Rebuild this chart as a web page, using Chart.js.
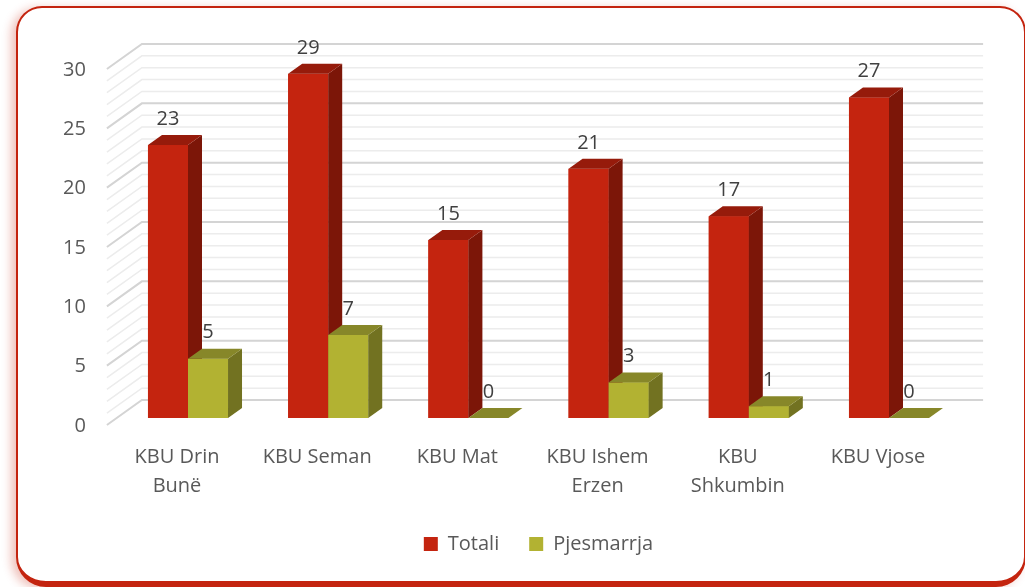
<!DOCTYPE html>
<html>
<head>
<meta charset="utf-8">
<script src="https://cdn.jsdelivr.net/npm/chart.js"></script>
<style>
  html, body { margin: 0; padding: 0; background: #fff; overflow: hidden; }
  .card {
    position: absolute; left: 16px; top: 6px; width: 1006px; height: 573px;
    border: 2px solid #c4240f; border-bottom-width: 6px;
    border-radius: 26px 26px 30px 30px;
    box-shadow: -5px 2px 10px rgba(196, 36, 15, 0.28);
    background: #fff;
  }
  #wrap { position: absolute; left: 0; top: 0; width: 1025px; height: 587px; }
</style>
</head>
<body>
<div class="card"></div>
<div id="wrap"><canvas id="bar-chart" width="1025" height="587"></canvas></div>
<script>
  // data
  var categories = [['KBU Drin', 'Bunë'], 'KBU Seman', 'KBU Mat', ['KBU Ishem', 'Erzen'], ['KBU', 'Shkumbin'], 'KBU Vjose'];
  var totali = [23, 29, 15, 21, 17, 27];
  var pjesmarrja = [5, 7, 0, 3, 1, 0];
  var yTicks = [0, 5, 10, 15, 20, 25, 30];

  var faceColors = [
    { front: '#c4240f', side: '#7c1608', top: '#961b0b' },
    { front: '#b2b232', side: '#727221', top: '#878729' }
  ];
  var depthX = 14, depthY = -10;

  Chart.defaults.font.family = "'Open Sans', sans-serif";

  // back wall + left side wall grid, in perspective
  var wallPlugin = {
    id: 'wall',
    beforeDatasetsDraw: function(chart) {
      var ctx = chart.ctx;
      var y = chart.scales.y;
      var area = chart.chartArea;
      ctx.save();
      for (var v = 0; v <= 30; v++) {
        var py = y.getPixelForValue(v);
        var major = v % 5 === 0;
        ctx.strokeStyle = major ? '#d4d4d4' : '#ececec';
        ctx.lineWidth = major ? 2 : 1.5;
        ctx.beginPath();
        ctx.moveTo(area.left - 11, py + 7);
        ctx.lineTo(area.left + 24, py - 18);
        ctx.lineTo(area.right + 24, py - 18);
        ctx.stroke();
      }
      ctx.restore();
    }
  };

  // side and top faces of the bars, then value labels
  var boxPlugin = {
    id: 'box3d',
    afterDatasetsDraw: function(chart) {
      var ctx = chart.ctx;
      ctx.save();
      for (var i = 0; i < categories.length; i++) {
        for (var d = 0; d < chart.data.datasets.length; d++) {
          var bar = chart.getDatasetMeta(d).data[i];
          var c = faceColors[d];
          var l = bar.x - bar.width / 2, r = bar.x + bar.width / 2;
          var t = Math.min(bar.y, bar.base), b = bar.base;
          ctx.fillStyle = c.front;
          ctx.fillRect(l, t, r - l, b - t);
          ctx.fillStyle = c.side;
          ctx.beginPath();
          ctx.moveTo(r, t); ctx.lineTo(r + depthX, t + depthY);
          ctx.lineTo(r + depthX, b + depthY); ctx.lineTo(r, b);
          ctx.closePath(); ctx.fill();
          ctx.fillStyle = c.top;
          ctx.beginPath();
          ctx.moveTo(l, t); ctx.lineTo(l + depthX, t + depthY);
          ctx.lineTo(r + depthX, t + depthY); ctx.lineTo(r, t);
          ctx.closePath(); ctx.fill();
        }
      }
      ctx.fillStyle = '#404040';
      ctx.font = "20px 'Open Sans', sans-serif";
      ctx.textAlign = 'center';
      ctx.textBaseline = 'middle';
      chart.data.datasets.forEach(function(ds, d) {
        chart.getDatasetMeta(d).data.forEach(function(bar, i) {
          ctx.fillText(String(ds.data[i]), bar.x, bar.y - 26);
        });
      });
      ctx.restore();
    }
  };

  new Chart(document.getElementById('bar-chart'), {
    type: 'bar',
    data: {
      labels: categories,
      datasets: [{
          label: 'Totali',
          data: totali,
          backgroundColor: faceColors[0].front
        }, {
          label: 'Pjesmarrja',
          data: pjesmarrja,
          backgroundColor: faceColors[1].front
        }]
    },
    options: {
      responsive: false,
      animation: false,
      categoryPercentage: 0.571,
      barPercentage: 1,
      layout: {
        padding: { left: 17.9, right: 65.9, top: 62, bottom: 23 }
      },
      plugins: {
        tooltip: { enabled: false },
        legend: {
          position: 'bottom',
          fullSize: false,
          labels: {
            boxWidth: 14,
            boxHeight: 14,
            padding: 30,
            color: '#595959',
            font: { size: 20 }
          }
        }
      },
      scales: {
        x: {
          grid: { display: false, drawTicks: false },
          border: { display: false },
          ticks: {
            color: '#595959',
            font: { size: 20, lineHeight: 1.45 },
            padding: 25,
            labelOffset: -11,
            maxRotation: 0,
            autoSkip: false
          },
          afterFit: function(scale) { scale.height = 86; }
        },
        y: {
          min: 0,
          max: 30,
          grid: { display: false, drawTicks: false },
          border: { display: false },
          afterBuildTicks: function(scale) {
            scale.ticks = yTicks.map(function(v) { return { value: v }; });
          },
          ticks: {
            color: '#595959',
            font: { size: 20 },
            padding: 32,
            labelOffset: 8
          },
          afterFit: function(scale) { scale.width = 100; }
        }
      }
    },
    plugins: [wallPlugin, boxPlugin]
  });
</script>
</body>
</html>
